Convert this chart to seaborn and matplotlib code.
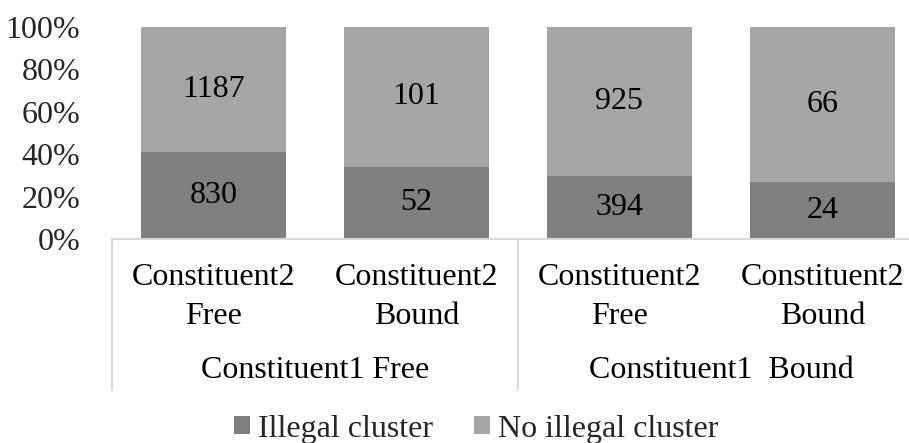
import matplotlib
matplotlib.use("Agg")
import matplotlib.pyplot as plt
import matplotlib.transforms as mtransforms
from matplotlib.patches import Patch
import seaborn as sns
import pandas as pd
import numpy as np

# ---- data ----
sub_labels = ["Constituent2\nFree", "Constituent2\nBound", "Constituent2\nFree", "Constituent2\nBound"]
group_labels = ["Constituent1 Free", "Constituent1  Bound"]
illegal = [830, 52, 394, 24]
no_illegal = [1187, 101, 925, 66]
series_names = ["Illegal cluster", "No illegal cluster"]
y_ticks = [0, 20, 40, 60, 80, 100]

sns.set_style("white")
plt.rcParams["font.family"] = ["Liberation Serif", "DejaVu Serif"]
FS = 23

dark = "#808080"
light = "#A6A6A6"
grid_c = "#D9D9D9"

illegal_a = np.array(illegal, dtype=float)
noill_a = np.array(no_illegal, dtype=float)
total = illegal_a + noill_a
pct_ill = illegal_a / total * 100
cats = [f"c{i}" for i in range(len(illegal))]
df = pd.DataFrame({"cat": cats, "total": np.full(len(cats), 100.0), "ill": pct_ill})

W, H = 909, 443
fig = plt.figure(figsize=(W / 100, H / 100), dpi=100)
ax = fig.add_axes([112 / W, (H - 239) / H, (W - 112) / W, 212 / H])

bw = 145 / 203
sns.barplot(data=df, x="cat", y="total", color=light, width=bw, ax=ax,
            saturation=1, edgecolor="none", linewidth=0)
sns.barplot(data=df, x="cat", y="ill", color=dark, width=bw, ax=ax,
            saturation=1, edgecolor="none", linewidth=0)

ax.set_xlim(-0.5, -0.5 + (W - 112) / 203)
ax.set_ylim(0, 100)
ax.set_yticks(y_ticks)
ax.set_yticklabels([f"{t}%" for t in y_ticks], fontsize=FS)
ax.tick_params(axis="y", length=0, pad=23)
ax.set_xticks(range(len(cats)))
ax.set_xticklabels([])
ax.tick_params(axis="x", length=0)
ax.set_xlabel("")
ax.set_ylabel("")
for s in ["left", "right", "top"]:
    ax.spines[s].set_visible(False)
ax.spines["bottom"].set_color(grid_c)
ax.spines["bottom"].set_linewidth(1.5)

# value labels
for i in range(len(cats)):
    ax.text(i, pct_ill[i] / 2, f"{illegal[i]}", ha="center", va="center", fontsize=FS, color="black")
    ax.text(i, pct_ill[i] + (100 - pct_ill[i]) / 2, f"{no_illegal[i]}", ha="center", va="center",
            fontsize=FS, color="black")

trans = mtransforms.blended_transform_factory(ax.transData, ax.transAxes)
# sub-category labels
for i, lab in enumerate(sub_labels):
    ax.text(i, (239 - 297) / 212, lab, ha="center", va="center", fontsize=FS,
            linespacing=1.42, transform=trans, color="black")
# group labels
for g, lab in enumerate(group_labels):
    ax.text(2 * g + 0.5, (239 - 370) / 212, lab, ha="center", va="center", fontsize=FS,
            transform=trans, color="black")
# separators
for xsep in [-0.5, 1.5, 3.5]:
    ax.plot([xsep, xsep], [0, (239 - 390) / 212], color=grid_c, lw=1.5, transform=trans,
            clip_on=False)

handles = [Patch(facecolor=dark, edgecolor="none"), Patch(facecolor=light, edgecolor="none")]
fig.legend(handles, series_names, loc="center", bbox_to_anchor=(476 / W, 1 - 429 / H),
           ncol=2, frameon=False, fontsize=FS, handlelength=0.5, handleheight=0.5,
           handletextpad=0.25, columnspacing=1.3, borderaxespad=0)

fig.savefig("out.png", dpi=100)
